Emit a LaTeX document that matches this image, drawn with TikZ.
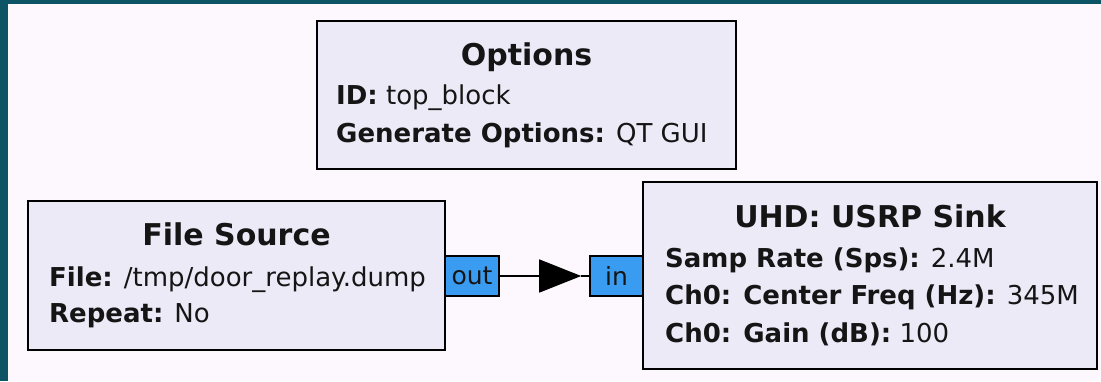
\documentclass[tikz,border=0pt]{standalone}
\usepackage{fontspec}
\setmainfont{DejaVu Sans}
\usetikzlibrary{arrows.meta,calc}
\definecolor{teal1}{HTML}{0D5466}
\definecolor{bgc}{HTML}{FDF8FD}
\definecolor{boxc}{HTML}{EDEAF8}
\definecolor{portc}{HTML}{3A9CF0}
\definecolor{txt}{HTML}{151515}
\tikzset{
  blockbox/.style={draw=black, line width=2pt, fill=boxc, rectangle, inner sep=0pt},
  portbox/.style={draw=black, line width=1.6pt, fill=portc, rectangle, inner sep=0pt, font=\fontsize{25}{25}\selectfont, text=txt},
  ttl/.style={anchor=base, inner sep=0pt, text=txt, font=\fontsize{30}{30}\selectfont\bfseries},
  prm/.style={anchor=base west, inner sep=0pt, text=txt, font=\fontsize{26}{26}\selectfont},
  link/.style={line width=1.6pt, draw=black},
}
\begin{document}
\begin{tikzpicture}[x=1pt,y=-1pt]
\useasboundingbox (0,0) rectangle (1101,381);
\fill[bgc] (0,0) rectangle (1101,381);
\fill[teal1] (0,0) rectangle (8,381);
\fill[teal1] (0,0) rectangle (1101,4);
% Options
\node[blockbox, minimum width=419pt, minimum height=148pt] (opt) at (526.5,94.5) {};
\node[ttl] (optT) at (526.5,65) {Options};
\node[prm] (optA) at (336,104) {\textbf{ID:} top\_block};
\node[prm] (optB) at (336,142) {\textbf{Generate Options:} QT GUI};
% File Source
\node[blockbox, minimum width=417pt, minimum height=149pt] (src) at (236.5,275.5) {};
\node[ttl] (srcT) at (236.5,245) {File Source};
\node[prm] (srcA) at (49,286) {\textbf{File:} /tmp/door\_replay.dump};
\node[prm] (srcB) at (49,322) {\textbf{Repeat:} No};
% USRP Sink
\node[blockbox, minimum width=454pt, minimum height=187pt] (snk) at (870,275.5) {};
\node[ttl] (snkT) at (870,227) {UHD: USRP Sink};
\node[prm] (snkA) at (665,267) {\textbf{Samp Rate (Sps):} 2.4M};
\node[prm] (snkB) at (665,304) {\textbf{Ch0: Center Freq (Hz):} 345M};
\node[prm] (snkC) at (665,342) {\textbf{Ch0: Gain (dB):} 100};
% ports
\node[portbox, minimum width=54pt, minimum height=40pt] (out) at (472,276) {out};
\node[portbox, minimum width=53pt, minimum height=40pt] (in) at (616.5,276) {in};
\coordinate (tip) at ($(in.west)+(-8,0)$);
\draw[link, -{Triangle[length=42pt,width=33pt]}] (out.east) -- (tip);
\draw[link] (tip) -- (in.west);
\end{tikzpicture}
\end{document}
